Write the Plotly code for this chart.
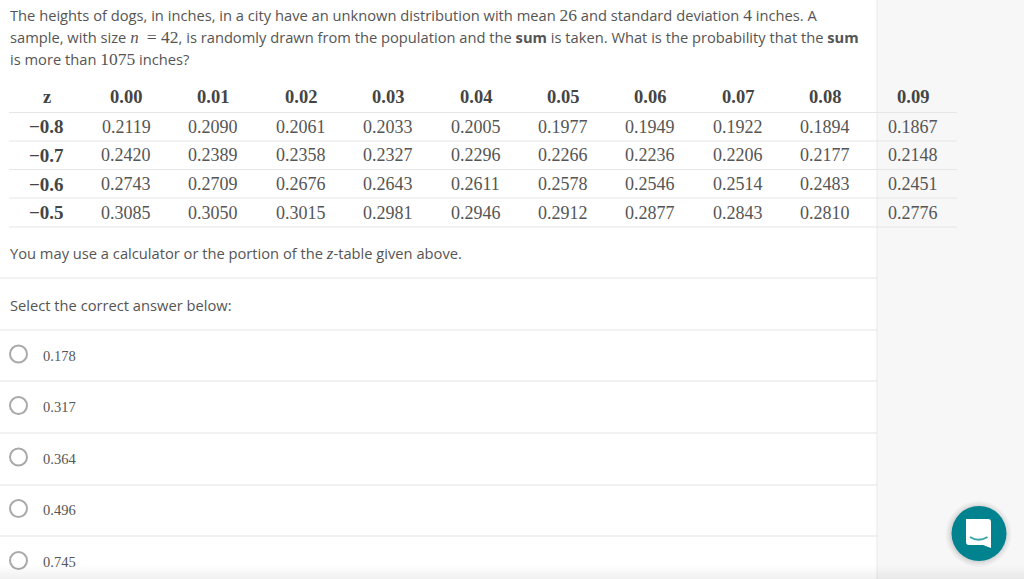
import plotly.graph_objects as go

W, H = 1024, 579
# --- data ---
z_labels = ["\u22120.8", "\u22120.7", "\u22120.6", "\u22120.5"]
col_labels = ["0.00", "0.01", "0.02", "0.03", "0.04", "0.05", "0.06", "0.07", "0.08", "0.09"]
row_08 = ["0.2119", "0.2090", "0.2061", "0.2033", "0.2005", "0.1977", "0.1949", "0.1922", "0.1894", "0.1867"]
row_07 = ["0.2420", "0.2389", "0.2358", "0.2327", "0.2296", "0.2266", "0.2236", "0.2206", "0.2177", "0.2148"]
row_06 = ["0.2743", "0.2709", "0.2676", "0.2643", "0.2611", "0.2578", "0.2546", "0.2514", "0.2483", "0.2451"]
row_05 = ["0.3085", "0.3050", "0.3015", "0.2981", "0.2946", "0.2912", "0.2877", "0.2843", "0.2810", "0.2776"]
answers = ["0.178", "0.317", "0.364", "0.496", "0.745"]
rows = [row_08, row_07, row_06, row_05]

SANS = "Open Sans"
SERIF = "Liberation Serif"
TXT = "#555555"
M = f'<span style="font-family:{SERIF};font-size:17.5px">'
MI = f'<span style="font-family:{SERIF};font-size:17px"><i>'
Q = [
    f"The heights of dogs, in inches, in a city have an unknown distribution with mean {M}26</span> and standard deviation {M}4</span> inches. A",
    f"sample, with size {MI}n</i></span> {M}\u00a0=\u00a042</span>, is randomly drawn from the population and the <b>sum</b> is taken. What is the probability that the <b>sum</b>",
    f"is more than {M}1075</span> inches?",
]

col_x = [126 + 87.4 * i for i in range(10)]
row_y = [97, 126.5, 155, 184, 212.5]
sep_y = [112.5, 141, 169.5, 198, 227]
ans_y = [355.5, 407, 458.5, 510, 561.5]
ans_sep = [278, 330, 381, 433, 485, 536]

ann = []
def text(x, y, s, font=SANS, size=14.7, color=TXT, anchor="left"):
    ann.append(dict(x=x, y=y, xref="x", yref="y", text=s, showarrow=False, xanchor=anchor,
                    yanchor="middle", align="left", borderpad=0,
                    font=dict(family=font, size=size, color=color)))

for s, y in zip(Q, [15, 37, 59]):
    text(8.5, y, s)
text(8.5, 253, f"You may use a calculator or the portion of the {MI}z</i></span>-table given above.")
text(8.5, 305, "Select the correct answer below:")

text(46.5, row_y[0], "<b>z</b>", SERIF, 18.5, "#444444", "center")
for x, s in zip(col_x, col_labels):
    text(x, row_y[0], f"<b>{s}</b>", SERIF, 18.5, "#444444", "center")
for r, y, zl in zip(rows, row_y[1:], z_labels):
    text(46.5, y, f"<b>{zl}</b>", SERIF, 19, "#444444", "center")
    for x, s in zip(col_x, r):
        text(x, y, s, SERIF, 18, TXT, "center")
for a, y in zip(answers, ans_y):
    text(41.5, y, a, SERIF, 14.5, TXT)

shapes = [
    dict(type="rect", x0=877, x1=W, y0=0, y1=H, fillcolor="#f7f7f7", line_width=0, layer="below"),
    dict(type="line", x0=877, x1=877, y0=0, y1=H, line=dict(color="#e9e9e9", width=1), layer="below"),
]
for y in sep_y:
    shapes.append(dict(type="line", x0=9, x1=957, y0=y, y1=y, line=dict(color="#e6e6e6", width=1), layer="below"))
for y in ans_sep:
    shapes.append(dict(type="line", x0=0, x1=877, y0=y, y1=y, line=dict(color="#e3e3e3", width=1), layer="below"))
for y in [354, 405.5, 457, 508.5, 560.5]:
    shapes.append(dict(type="circle", x0=10, x1=27, y0=y - 8.5, y1=y + 8.5,
                       line=dict(color="#a9a9a9", width=2), fillcolor="white"))
# soft fade at the bottom of the page
for i in range(14):
    shapes.append(dict(type="rect", x0=0, x1=W, y0=H - 14 + i, y1=H, fillcolor="rgba(120,120,120,0.006)", line_width=0))
# chat button
for r, a in [(33, .03), (31, .04), (29, .06)]:
    shapes.append(dict(type="circle", x0=978.5 - r, x1=978.5 + r, y0=534 - r, y1=534 + r,
                       fillcolor=f"rgba(0,0,0,{a})", line_width=0))
shapes.append(dict(type="circle", x0=951.5, x1=1006.5, y0=506, y1=561, fillcolor="#00838f", line_width=0))
shapes.append(dict(type="path",
                   path="M 966 519 Q 966 519 969 519 L 988 519 Q 991 519 991 522 L 991 548 L 983 545 L 969 545 Q 966 545 966 542 Z",
                   fillcolor="white", line_width=0))
shapes.append(dict(type="path", path="M 970 537 Q 978.5 542.5 987.5 537",
                   line=dict(color="#3aa3ac", width=2)))

fig = go.Figure()
fig.update_layout(
    width=W, height=H, margin=dict(l=0, r=0, t=0, b=0),
    paper_bgcolor="white", plot_bgcolor="white", showlegend=False,
    xaxis=dict(range=[0, W], visible=False, fixedrange=True),
    yaxis=dict(range=[H, 0], visible=False, fixedrange=True),
    annotations=ann, shapes=shapes,
)
fig.write_html("out.html", config={"displayModeBar": False},
               post_script="document.body.style.margin='0';document.documentElement.style.overflow='hidden';")
